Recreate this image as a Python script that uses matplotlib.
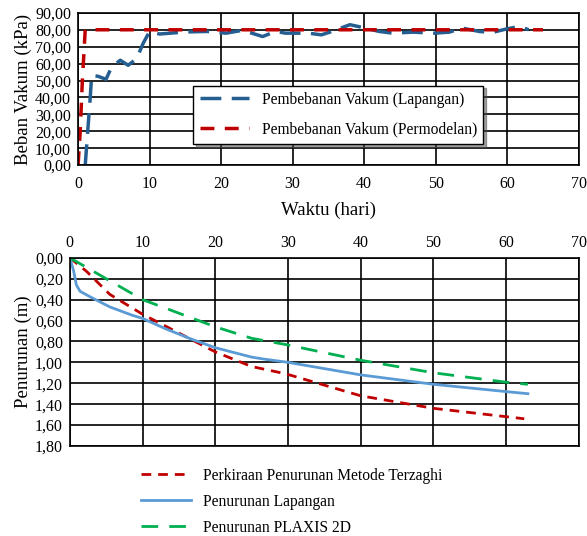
import matplotlib.pyplot as plt
from matplotlib.ticker import FuncFormatter

plt.rcParams['font.family'] = ['Liberation Serif', 'DejaVu Serif']
plt.rcParams['font.size'] = 11.5

# Beban vakum (kPa) vs waktu (hari)
t_lap = [1.0, 1.7, 1.9, 2.8, 3.9, 4.7, 5.9, 7.0, 8.2, 9.1, 10.0, 11.4, 15.0, 18.0, 20.7, 23.0,
         25.8, 27.6, 29.0, 32.2, 34.0, 35.2, 38.0, 39.1, 42.1, 44.0, 46.8, 49.8, 51.9, 53.7,
         56.1, 57.9, 59.8, 61.7, 63.0]
q_lap = [0.0, 40.0, 53.0, 52.5, 50.7, 58.0, 62.0, 59.0, 63.0, 72.0, 79.0, 77.5, 78.7, 79.0,
         78.0, 79.7, 76.0, 79.0, 78.0, 78.0, 77.0, 78.6, 83.0, 82.0, 79.0, 78.0, 78.6, 78.0,
         78.6, 81.0, 79.0, 78.4, 80.4, 82.0, 80.0]
t_mod = [0.0, 0.3, 0.6, 1.0, 65.0]
q_mod = [0.0, 20.0, 50.0, 80.0, 80.0]

# Penurunan (m) vs waktu (hari)
t_terz = [0, 2.3, 5.5, 10, 15, 20, 25, 29.7, 40, 50, 60, 62.5]
s_terz = [0, 0.13, 0.35, 0.54, 0.72, 0.90, 1.04, 1.11, 1.32, 1.44, 1.52, 1.54]
t_field = [0, 0.5, 0.9, 1.4, 2.7, 5.5, 8.6, 10, 13.2, 16.8, 20, 25, 26.8, 30, 40, 50, 60, 63]
s_field = [0, 0.12, 0.26, 0.32, 0.37, 0.47, 0.55, 0.58, 0.68, 0.78, 0.86, 0.95, 0.97, 1.0,
           1.12, 1.21, 1.28, 1.30]
t_plaxis = [0, 5.5, 10, 15, 20, 25, 29.7, 40, 50, 60, 63]
s_plaxis = [0, 0.22, 0.40, 0.53, 0.66, 0.77, 0.83, 0.98, 1.10, 1.19, 1.21]

comma = lambda d: FuncFormatter(lambda v, p: f'{v:.{d}f}'.replace('.', ','))

fig = plt.figure(figsize=(5.87, 5.36), dpi=100)

# --- top chart
ax1 = fig.add_axes([0.133, 0.692, 0.853, 0.284])
ax1.plot(t_lap, q_lap, color='#255E91', lw=2.5, dashes=(6, 3), label='Pembebanan Vakum (Lapangan)')
ax1.plot(t_mod, q_mod, color='#C00000', lw=2.5, dashes=(4, 3), label='Pembebanan Vakum (Permodelan)')
ax1.set_xlim(0, 70)
ax1.set_ylim(0, 90)
ax1.set_xticks(range(0, 71, 10))
ax1.set_yticks(range(0, 91, 10))
ax1.yaxis.set_major_formatter(comma(2))
ax1.grid(True, color='black', lw=1.2)
ax1.set_axisbelow(True)
ax1.tick_params(length=0, pad=5)
ax1.tick_params(axis='x', pad=8)
for s in ax1.spines.values():
    s.set_color('black')
    s.set_linewidth(1.2)
ax1.set_ylabel('Beban Vakum (kPa)', fontsize=13.5, labelpad=2)
ax1.set_xlabel('Waktu (hari)', fontsize=13.5, labelpad=7)
leg1 = ax1.legend(loc='center', bbox_to_anchor=(0.52, 0.33), frameon=True, fancybox=False,
                  shadow=True, edgecolor='black', framealpha=1, handlelength=3.2, labelspacing=0.9,
                  fontsize=11.2)
leg1.get_frame().set_linewidth(1.0)

# --- bottom chart
ax2 = fig.add_axes([0.119, 0.168, 0.867, 0.351])
ax2.plot(t_terz, s_terz, color='#C00000', lw=2, dashes=(3.5, 2.5), label='Perkiraan Penurunan Metode Terzaghi')
ax2.plot(t_field, s_field, color='#5B9BD5', lw=2, label='Penurunan Lapangan')
ax2.plot(t_plaxis, s_plaxis, color='#00B050', lw=2, dashes=(6, 4), label='Penurunan PLAXIS 2D')
ax2.set_xlim(0, 70)
ax2.set_ylim(1.8, 0)
ax2.set_xticks(range(0, 71, 10))
ax2.set_yticks([i * 0.2 for i in range(10)])
ax2.yaxis.set_major_formatter(comma(2))
ax2.xaxis.tick_top()
ax2.grid(True, color='black', lw=1.2)
ax2.set_axisbelow(True)
ax2.tick_params(length=0, pad=5)
ax2.tick_params(axis='x', pad=5)
for s in ax2.spines.values():
    s.set_color('black')
    s.set_linewidth(1.2)
ax2.set_ylabel('Penurunan (m)', fontsize=13.5, labelpad=2)
fig.legend(handles=ax2.get_lines(), loc='center', bbox_to_anchor=(0.497, 0.064), frameon=False,
           handlelength=3.2, labelspacing=0.65, fontsize=11.2)

fig.savefig('out.png', dpi=100)
